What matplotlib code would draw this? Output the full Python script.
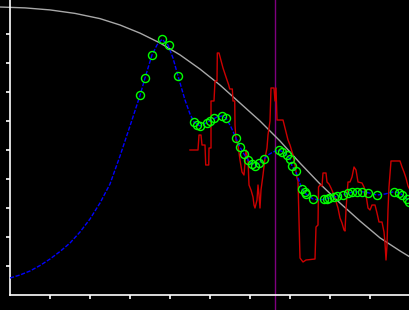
import matplotlib
matplotlib.use("Agg")
import matplotlib.pyplot as plt

# gray reference curve
gray_x = [-2.5, 3.75, 10, 16.25, 22.5, 27.5, 32.5, 37.5, 42.5, 47.5, 52.5, 57.5, 62.5,
          67.5, 72.5, 77.5, 82.5, 87.5, 92.5, 97.5, 100]
gray_y = [99.3, 99.0, 98.3, 97.1, 95.3, 93.1, 90.3, 86.9, 82.8, 77.9, 72.4, 66.2, 60.0,
          53.1, 45.5, 38.3, 31.7, 25.5, 19.7, 15.2, 13.1]

# blue fitted curve
blue_x = [0, 2.5, 5, 7.5, 10, 12.5, 15, 17.5, 20, 22.5, 25, 27.5, 30, 32.5, 33.75, 35.5,
          36.75, 38, 39.5, 40.75, 42, 43.75, 45, 46, 47.5, 50, 51.75, 53, 54, 55.25, 56.5,
          57.5, 58.5, 59.5, 60.5, 61.25, 62.25, 63.5, 64.5, 65.75, 67.25, 68.25, 69.25, 70,
          70.5, 71.5, 72, 73, 74, 75.75, 77.5, 80, 83, 85.75, 88, 89.5, 91.75, 93.75, 96,
          97.5, 99.25, 100]
blue_y = [5.86, 6.90, 8.28, 10.17, 12.41, 15.0, 17.93, 21.72, 26.21, 31.72, 38.28, 47.93,
          58.28, 68.8, 74.83, 82.76, 86.21, 88.17, 86.21, 81.72, 75.52, 67.24, 62.41, 59.66,
          58.28, 60.0, 61.38, 61.72, 61.03, 57.93, 54.14, 51.03, 48.62, 46.55, 45.17, 44.59,
          45.52, 46.90, 48.28, 49.31, 50.0, 49.31, 48.28, 46.90, 44.48, 42.41, 40.34, 36.55,
          34.83, 33.10, 32.76, 33.45, 34.48, 35.52, 35.62, 35.28, 34.48, 34.83, 35.62, 35.17,
          33.10, 32.07]

# green sample points
pts_x = [32.58, 33.83, 35.58, 38.0, 39.68, 42.08, 46.08, 46.68, 47.5, 49.33, 50.0, 51.08,
         52.93, 53.93, 56.5, 57.58, 58.58, 59.5, 60.5, 61.25, 62.33, 63.5, 67.25, 68.0,
         69.18, 70.0, 70.58, 71.43, 73.08, 73.75, 74.08, 75.83, 78.58, 79.18, 79.83, 80.93,
         81.83, 83.18, 84.58, 85.43, 86.68, 87.93, 89.58, 91.68, 96.0, 97.33, 97.93, 99.18,
         99.83]
pts_y = [68.86, 74.72, 82.66, 88.17, 86.21, 75.41, 59.55, 58.62, 58.17, 59.41, 60.0, 61.03,
         61.72, 61.03, 54.03, 50.93, 48.52, 46.55, 45.07, 44.59, 45.62, 46.79, 49.90, 49.41,
         48.17, 46.79, 44.48, 42.86, 36.55, 35.41, 34.83, 33.0, 33.0, 33.21, 33.45, 33.69,
         34.14, 34.48, 35.07, 35.41, 35.62, 35.62, 35.28, 34.38, 35.62, 35.28, 34.48, 33.10,
         32.17]

# red measured trace
red_x = [45.0, 47.0, 47.25, 47.75, 48.0, 48.75, 48.93, 49.68, 49.75, 50.25, 50.25, 51.0,
         51.25, 51.75, 51.83, 52.25, 53.25, 54.08, 54.68, 54.93, 55.58, 55.75, 56.18, 56.25,
         56.5, 57.0, 57.5, 58.0, 58.5, 59.0, 59.5, 59.75, 60.25, 60.75, 61.0, 61.25, 61.75,
         62.0, 62.25, 62.5, 62.75, 63.25, 63.75, 64.25, 64.5, 65.0, 65.25, 66.0, 66.25, 66.5,
         66.75, 68.25, 68.75, 69.5, 70.0, 70.75, 71.25, 71.75, 72.0, 72.25, 72.5, 73.25, 74.0,
         76.25, 76.5, 77.0, 77.13, 77.5, 78.0, 78.25, 79.0, 79.25, 79.75, 80.25, 81.0, 82.0,
         82.5, 83.0, 83.5, 83.75, 84.0, 84.25, 84.5, 85.0, 85.5, 86.0, 86.5, 87.0, 88.0, 88.5,
         89.0, 89.5, 90.0, 90.5, 91.25, 91.75, 92.25, 93.0, 93.5, 93.75, 94.0, 94.25, 94.5,
         94.75, 95.25, 97.5, 98.0, 98.5, 99.0, 99.5, 100.0]
red_y = [50.0, 50.0, 55.17, 55.17, 51.72, 51.72, 44.83, 44.83, 50.69, 50.69, 66.90, 66.90,
         73.79, 73.79, 83.45, 83.45, 78.28, 74.83, 72.41, 71.03, 71.03, 66.90, 66.90, 58.62,
         53.45, 51.72, 46.55, 42.41, 41.38, 50.0, 46.55, 37.93, 36.21, 33.79, 31.03, 30.0,
         32.76, 37.93, 34.48, 30.0, 36.21, 41.38, 47.24, 50.69, 55.17, 60.0, 71.38, 71.38,
         66.90, 71.38, 60.34, 60.34, 57.59, 53.45, 51.72, 48.28, 44.83, 40.34, 39.31, 25.86,
         12.76, 11.38, 12.07, 12.41, 23.45, 24.14, 37.24, 37.93, 37.59, 42.07, 42.07, 38.97,
         38.28, 36.90, 34.48, 30.0, 26.55, 24.83, 22.41, 22.07, 29.31, 34.48, 38.97, 38.97,
         40.69, 44.14, 43.10, 38.97, 38.62, 37.24, 34.48, 30.0, 29.31, 31.03, 31.03, 28.28,
         25.17, 25.17, 21.72, 17.93, 12.07, 17.24, 29.31, 37.24, 46.21, 46.21, 44.14, 42.41,
         40.34, 37.59, 36.21]

marker_x = 66.33
x_ticks = [10, 20, 30, 40, 50, 60, 70, 80, 90, 100]
y_ticks = [10, 20, 30, 40, 50, 60, 70, 80, 90]

fig = plt.figure(figsize=(4.1, 3.1), dpi=100, facecolor="black")
ax = fig.add_axes([0, 0, 1, 1])
ax.set_facecolor("black")
ax.set_xlim(-2.5, 100)
ax.set_ylim(-5.17, 101.72)

ax.axvline(marker_x, color="#7f007f", lw=1, zorder=1)
ax.plot(gray_x, gray_y, color="#a8a8a8", lw=1, zorder=2)
ax.plot(red_x, red_y, color="#cc0000", lw=1, zorder=3)
ax.plot(blue_x, blue_y, color="#0000ff", lw=1, dashes=(3, 1.2), zorder=4)
ax.plot(pts_x, pts_y, linestyle="none", marker="o", ms=5.8, mfc="none",
        mec="#00ff00", mew=1, zorder=5)

for s in ["top", "right"]:
    ax.spines[s].set_visible(False)
ax.spines["left"].set_position(("data", 0))
ax.spines["bottom"].set_position(("data", 0))
ax.spines["left"].set_bounds(0, 101.72)
ax.spines["bottom"].set_bounds(0, 100)
for s in ["left", "bottom"]:
    ax.spines[s].set_color("white")
    ax.spines[s].set_linewidth(1.2)

ax.set_xticks(x_ticks)
ax.set_yticks(y_ticks)
ax.tick_params(direction="out", length=3, width=1.2, colors="white",
               labelbottom=False, labelleft=False)

fig.savefig("out.png", dpi=100, facecolor="black")
